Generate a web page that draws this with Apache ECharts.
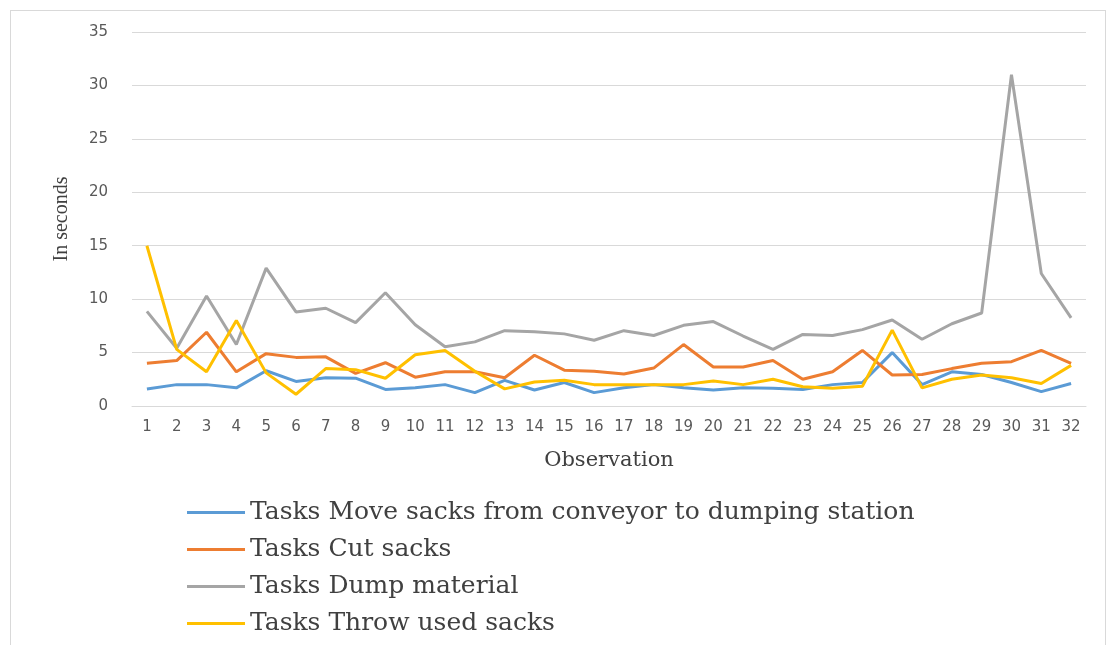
<!DOCTYPE html>
<html>
<head>
<meta charset="utf-8">
<script src="https://cdn.jsdelivr.net/npm/echarts@6/dist/echarts.min.js"></script>
<style>
  html, body { margin: 0; padding: 0; background: #fff; }
  #frame { position: absolute; left: 10px; top: 10px; width: 1096px; height: 640px; border: 1px solid #d9d9d9; border-bottom: none; box-sizing: border-box; }
  #chart { position: absolute; left: 0; top: 0; width: 1114px; height: 645px; }
</style>
</head>
<body>
<div id="frame"></div>
<div id="chart"></div>
<script>
// observation numbers 1..32
var observations = ['1','2','3','4','5','6','7','8','9','10','11','12','13','14','15','16',
                    '17','18','19','20','21','22','23','24','25','26','27','28','29','30','31','32'];

var moveSacks = [1.6, 2.0, 2.0, 1.7, 3.3, 2.3, 2.65, 2.6, 1.55, 1.7, 2.0, 1.25, 2.4, 1.5, 2.2, 1.25,
                 1.7, 2.0, 1.7, 1.5, 1.7, 1.65, 1.55, 2.0, 2.2, 5.0, 2.0, 3.2, 2.95, 2.2, 1.35, 2.1];
var cutSacks = [4.0, 4.25, 6.9, 3.2, 4.9, 4.55, 4.6, 3.05, 4.05, 2.7, 3.2, 3.2, 2.65, 4.75, 3.35, 3.25,
                3.0, 3.55, 5.75, 3.65, 3.65, 4.25, 2.5, 3.2, 5.2, 2.9, 2.95, 3.5, 4.0, 4.15, 5.2, 4.0];
var dumpMaterial = [8.85, 5.4, 10.3, 5.75, 12.9, 8.8, 9.15, 7.8, 10.6, 7.6, 5.55, 6.0, 7.05, 6.95, 6.75, 6.15,
                    7.05, 6.6, 7.55, 7.9, 6.55, 5.3, 6.7, 6.6, 7.15, 8.05, 6.25, 7.7, 8.7, 31.0, 12.4, 8.25];
var throwSacks = [15.0, 5.3, 3.2, 8.0, 3.1, 1.1, 3.5, 3.4, 2.6, 4.8, 5.2, 3.25, 1.6, 2.25, 2.4, 2.0,
                  2.0, 2.0, 2.0, 2.35, 2.0, 2.5, 1.8, 1.65, 1.85, 7.1, 1.7, 2.5, 2.9, 2.65, 2.1, 3.8];

var names = ['Tasks Move sacks from conveyor to dumping station', 'Tasks Cut sacks',
             'Tasks Dump material', 'Tasks Throw used sacks'];
var colors = ['#5B9BD5', '#ED7D31', '#A5A5A5', '#FFC000'];
var values = [moveSacks, cutSacks, dumpMaterial, throwSacks];

var myChart = echarts.init(document.getElementById('chart'));

var series = [];
for (var i = 0; i < values.length; i++) {
    series.push({
        name: names[i],
        type: 'line',
        data: values[i],
        symbol: 'none',
        lineStyle: { width: 3, color: colors[i] },
        itemStyle: { color: colors[i] }
    });
}

var option = {
    animation: false,
    grid: { left: 132, right: 28, top: 32, bottom: 239 },
    legend: {
        orient: 'vertical',
        left: 187,
        top: 500,
        padding: 0,
        icon: 'rect',
        itemWidth: 58,
        itemHeight: 3,
        itemGap: 12,
        data: names,
        textStyle: { fontFamily: 'DejaVu Serif', fontSize: 25, color: '#404040' }
    },
    xAxis: {
        type: 'category',
        data: observations,
        boundaryGap: true,
        name: 'Observation',
        nameLocation: 'middle',
        nameGap: 44,
        nameTextStyle: { fontFamily: 'DejaVu Serif', fontSize: 21, color: '#404040' },
        axisLine: { show: true, lineStyle: { color: '#d9d9d9' } },
        axisTick: { show: false },
        axisLabel: { fontFamily: 'DejaVu Sans', fontSize: 15, color: '#595959', margin: 14, interval: 0 }
    },
    yAxis: {
        type: 'value',
        min: 0,
        max: 35,
        interval: 5,
        name: 'In seconds',
        nameLocation: 'middle',
        nameGap: 60,
        nameTextStyle: { fontFamily: 'Liberation Serif', fontSize: 20, color: '#404040' },
        axisLine: { show: false },
        axisTick: { show: false },
        axisLabel: { fontFamily: 'DejaVu Sans', fontSize: 15, color: '#595959', margin: 24 },
        splitLine: { lineStyle: { color: '#d9d9d9' } }
    },
    series: series
};

myChart.setOption(option);
</script>
</body>
</html>
